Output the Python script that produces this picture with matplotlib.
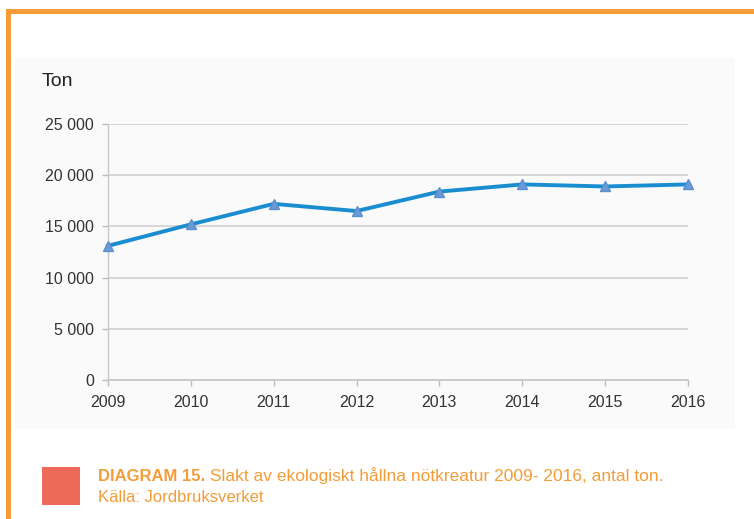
import matplotlib
matplotlib.use("Agg")
import matplotlib.pyplot as plt
from matplotlib.patches import Rectangle
from matplotlib.text import Annotation

years = [2009, 2010, 2011, 2012, 2013, 2014, 2015, 2016]
tons = [13100, 15200, 17200, 16500, 18400, 19100, 18900, 19100]
yticks = [0, 5000, 10000, 15000, 20000, 25000]
ytick_labels = ["0", "5 000", "10 000", "15 000", "20 000", "25 000"]

W, H = 754, 519
plt.rcParams["font.family"] = ["Liberation Sans", "DejaVu Sans"]
fig = plt.figure(figsize=(W / 100, H / 100), dpi=100)
fig.patch.set_facecolor("white")

orange = "#f39c38"

def fx(px):
    return px / W

def fy(py):
    return 1 - py / H

# panel background
fig.patches.append(Rectangle((fx(15), fy(429)), fx(735) - fx(15), fy(58) - fy(429),
                             transform=fig.transFigure, facecolor="#fafafa",
                             edgecolor="none", zorder=-5))
# orange frame (top and left)
fig.patches.append(Rectangle((fx(6), fy(14)), 1 - fx(6), fy(9) - fy(14),
                             transform=fig.transFigure, facecolor=orange,
                             edgecolor="none", zorder=-4))
fig.patches.append(Rectangle((fx(6), 0), fx(11) - fx(6), fy(9),
                             transform=fig.transFigure, facecolor=orange,
                             edgecolor="none", zorder=-4))
# red square
fig.patches.append(Rectangle((fx(42), fy(505)), fx(80) - fx(42), fy(467) - fy(505),
                             transform=fig.transFigure, facecolor="#ee6a58",
                             edgecolor="none", zorder=-4))

ax = fig.add_axes([fx(108), fy(380), fx(688) - fx(108), fy(124) - fy(380)])
ax.set_zorder(2)
ax.patch.set_visible(False)
ax.plot(years, tons, color="#1a8dd0", lw=2.8, marker="^", markersize=7,
        markerfacecolor="#6b9bd6", markeredgecolor="#5b8fd0", clip_on=False, zorder=3)
ax.set_xlim(2009, 2016)
ax.set_ylim(0, 25000)
ax.set_xticks(years)
ax.set_xticklabels([str(y) for y in years])
ax.set_yticks(yticks)
ax.set_yticklabels(ytick_labels)
ax.grid(axis="y", color="#d4d4d4", lw=1.3)
ax.set_axisbelow(True)
for s in ["top", "right"]:
    ax.spines[s].set_visible(False)
ax.spines["left"].set_color("#c8c8c8")
ax.spines["bottom"].set_color("#c8c8c8")
ax.spines["left"].set_linewidth(1.0)
ax.spines["bottom"].set_linewidth(1.3)
ax.tick_params(axis="both", colors="#bcbcbc", length=4, width=1, labelcolor="#333333",
               labelsize=11.5)
ax.tick_params(axis="x", pad=7)
ax.tick_params(axis="y", pad=6)

fig.text(fx(42), fy(82), "Ton", fontsize=14, color="#222222", va="center", ha="left")

t1 = fig.text(fx(98), fy(481), "DIAGRAM 15.", fontsize=12, fontweight="bold",
              color=orange, va="baseline", ha="left")
fig.add_artist(Annotation(" Slakt av ekologiskt hållna nötkreatur 2009- 2016, antal ton.",
                          xy=(1, 0), xycoords=t1, va="bottom", ha="left",
                          fontsize=12.5, color=orange))
fig.text(fx(98), fy(502), "Källa: Jordbruksverket", fontsize=12, color=orange,
         va="baseline", ha="left")

fig.savefig("out.png", dpi=100)
